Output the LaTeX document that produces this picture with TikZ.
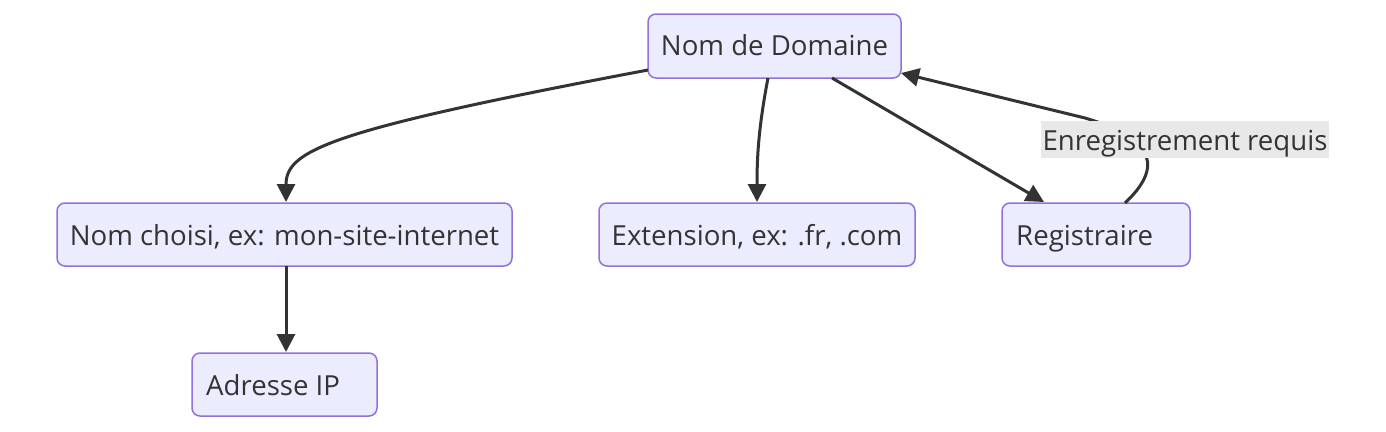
\documentclass[tikz,border=0pt]{standalone}
\usepackage{fontspec}
\setmainfont{Open Sans}
\usetikzlibrary{arrows.meta}
\definecolor{nodefill}{HTML}{ECECFF}
\definecolor{nodeline}{HTML}{9370DB}
\definecolor{edge}{HTML}{333333}
\definecolor{lblbg}{HTML}{E8E8E8}
\definecolor{txt}{HTML}{333333}
\tikzset{
  box/.style={draw=nodeline, fill=nodefill, line width=1.5pt, rounded corners=8pt, inner sep=0pt},
  conn/.style={draw=edge, line width=3pt, -{Triangle[length=18pt,width=18pt]}},
  lbl/.style={fill=lblbg, inner sep=0pt, text=txt, font=\fontsize{27.6}{32}\selectfont},
  btxt/.style={text=txt, font=\fontsize{27.6}{32}\selectfont, inner sep=0pt}
}
\begin{document}
\begin{tikzpicture}[x=1pt,y=-1pt]
\useasboundingbox (0,0) rectangle (1386,431);
% boxes
\path[box] (648,14) rectangle (901,78);
\node[btxt, anchor=base] (ndt) at (774.5,55) {Nom de Domaine};
\path[box] (57,203) rectangle (512,266);
\node[btxt, anchor=base] (nct) at (284.5,245) {Nom choisi, ex: mon-site-internet};
\path[box] (599,203) rectangle (915,266);
\node[btxt, anchor=base] (ext) at (757,245) {Extension, ex: .fr, .com};
\path[box] (1002,203) rectangle (1190,266);
\node[btxt, anchor=base west] (regt) at (1016,245) {Registraire};
\path[box] (192,353) rectangle (377,416);
\node[btxt, anchor=base west] (ipt) at (206,395) {Adresse IP};
% named anchor coordinates
\coordinate (ndL) at (648,70);
\coordinate (ndB) at (768,78);
\coordinate (ndR) at (832,78);
\coordinate (ndRin) at (901,73);
\coordinate (ncT) at (286,202);
\coordinate (ncB) at (286,266);
\coordinate (extT) at (757,202);
\coordinate (regT) at (1044,202);
\coordinate (regR) at (1125,203);
\coordinate (ipT) at (286,352);
% connectors
\draw[conn] (ndL) .. controls (330,130) and (286,150) .. (ncT);
\draw[conn] (ndB) .. controls (758,130) and (757,160) .. (extT);
\draw[conn] (ndR) -- (regT);
\draw[conn] (ncB) -- (ipT);
\draw[conn] (regR) .. controls (1160,170) and (1160,140) .. (1085,118) -- (ndRin);
\path[fill=lblbg] (1041,121) rectangle (1329,158);
\node[lbl, fill=none, anchor=base] (lab) at (1185,150) {Enregistrement requis};
\end{tikzpicture}
\end{document}
